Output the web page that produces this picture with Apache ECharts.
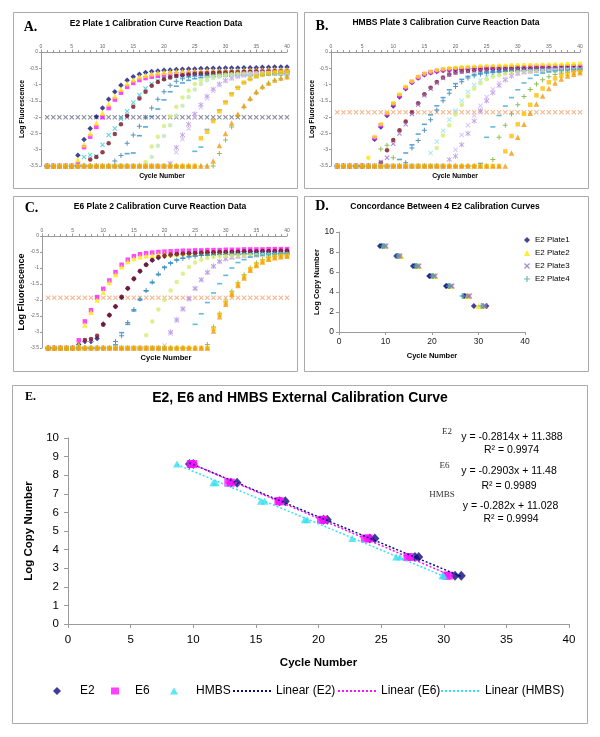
<!DOCTYPE html>
<html><head><meta charset="utf-8">
<script src="https://cdn.jsdelivr.net/npm/echarts@6/dist/echarts.min.js"></script>
<style>html,body{margin:0;padding:0;background:#fff}#c{width:600px;height:737px}</style>
</head><body><div id="c"></div>
<script>
// ---------- DATA ----------
const CYCLES = [1,2,3,4,5,6,7,8,9,10,11,12,13,14,15,16,17,18,19,20,21,22,23,24,25,26,27,28,29,30,31,32,33,34,35,36,37,38,39,40];

// Panel A: E2 Plate 1 (log fluorescence per cycle)
const A_navy = [-3.5,-3.5,-3.5,-3.5,-3.5,-3.17,-2.69,-2.35,-1.99,-1.72,
-1.45,-1.22,-1.02,-0.87,-0.76,-0.68,-0.63,-0.60,-0.58,-0.56,
-0.55,-0.54,-0.53,-0.52,-0.52,-0.51,-0.51,-0.50,-0.50,-0.49,
-0.49,-0.49,-0.48,-0.48,-0.48,-0.47,-0.47,-0.46,-0.46,-0.46];
const A_yellow = [-3.5,-3.5,-3.5,-3.5,-3.5,-3.30,-2.85,-2.50,-2.18,-1.87,
-1.60,-1.36,-1.14,-0.97,-0.85,-0.76,-0.71,-0.67,-0.64,-0.62,
-0.61,-0.60,-0.59,-0.59,-0.58,-0.58,-0.57,-0.57,-0.57,-0.56,
-0.56,-0.56,-0.55,-0.55,-0.55,-0.55,-0.54,-0.54,-0.54,-0.54];
const A_magenta = [-3.5,-3.5,-3.5,-3.5,-3.5,-3.45,-2.92,-2.60,-2.30,-2.00,
-1.72,-1.46,-1.25,-1.07,-0.95,-0.86,-0.80,-0.76,-0.73,-0.71,
-0.69,-0.68,-0.67,-0.66,-0.65,-0.65,-0.64,-0.64,-0.63,-0.63,
-0.62,-0.62,-0.62,-0.61,-0.61,-0.61,-0.60,-0.60,-0.60,-0.60];
const A_cyan = [-3.5,-3.5,-3.5,-3.5,-3.5,-3.5,-3.22,-3.16,-3.20,-2.85,
-2.55,-2.35,-2.05,-1.82,-1.55,-1.32,-1.12,-0.98,-0.88,-0.81,
-0.77,-0.74,-0.72,-0.71,-0.70,-0.69,-0.69,-0.68,-0.68,-0.67,
-0.67,-0.66,-0.66,-0.66,-0.65,-0.65,-0.65,-0.64,-0.64,-0.64];
const A_maroon = [-3.5,-3.5,-3.5,-3.5,-3.5,-3.5,-3.5,-3.30,-3.22,-3.08,
-2.80,-2.52,-2.22,-1.96,-1.68,-1.43,-1.22,-1.04,-0.92,-0.84,
-0.78,-0.74,-0.71,-0.69,-0.67,-0.66,-0.65,-0.64,-0.63,-0.63,
-0.62,-0.62,-0.61,-0.61,-0.60,-0.60,-0.60,-0.59,-0.59,-0.59];
const A_teal = [-3.5,-3.5,-3.5,-3.5,-3.5,-3.5,-3.5,-3.5,-3.5,-3.5,
-3.5,-3.35,-3.18,-2.80,-2.55,-2.28,-2.00,-1.72,-1.45,-1.22,
-1.02,-0.90,-0.82,-0.77,-0.74,-0.72,-0.71,-0.70,-0.70,-0.69,
-0.69,-0.68,-0.68,-0.68,-0.67,-0.67,-0.67,-0.66,-0.66,-0.66];
const A_blue = [-3.5,-3.5,-3.5,-3.5,-3.5,-3.5,-3.5,-3.5,-3.5,-3.5,
-3.5,-3.5,-3.5,-3.12,-3.10,-2.57,-2.30,-1.98,-1.75,-1.47,
-1.22,-1.05,-0.95,-0.87,-0.82,-0.79,-0.77,-0.76,-0.75,-0.74,
-0.73,-0.73,-0.72,-0.72,-0.71,-0.71,-0.71,-0.70,-0.70,-0.70];
const A_lime = [-3.5,-3.5,-3.5,-3.5,-3.5,-3.5,-3.5,-3.5,-3.5,-3.5,
-3.5,-3.5,-3.5,-3.5,-3.5,-3.5,-3.38,-2.90,-2.60,-2.27,
-1.98,-1.68,-1.40,-1.18,-0.98,-0.87,-0.80,-0.75,-0.72,-0.70,
-0.68,-0.67,-0.66,-0.65,-0.65,-0.64,-0.64,-0.63,-0.63,-0.63];
const A_pale = [-3.5,-3.5,-3.5,-3.5,-3.5,-3.5,-3.5,-3.5,-3.5,-3.5,
-3.5,-3.5,-3.5,-3.5,-3.5,-3.5,-3.5,-3.22,-2.88,-2.58,
-2.25,-1.95,-1.65,-1.38,-1.15,-0.98,-0.87,-0.80,-0.76,-0.73,
-0.71,-0.70,-0.69,-0.68,-0.67,-0.67,-0.66,-0.66,-0.65,-0.65];
const A_violet = [-3.5,-3.5,-3.5,-3.5,-3.5,-3.5,-3.5,-3.5,-3.5,-3.5,
-3.5,-3.5,-3.5,-3.5,-3.5,-3.5,-3.5,-3.5,-3.5,-3.5,
-3.42,-2.93,-2.55,-2.22,-1.90,-1.62,-1.36,-1.14,-0.98,-0.87,
-0.79,-0.74,-0.70,-0.67,-0.65,-0.64,-0.63,-0.62,-0.61,-0.61];
const A_lav = [-3.5,-3.5,-3.5,-3.5,-3.5,-3.5,-3.5,-3.5,-3.5,-3.5,
-3.5,-3.5,-3.5,-3.5,-3.5,-3.5,-3.5,-3.5,-3.5,-3.5,
-3.5,-3.08,-2.68,-2.35,-2.00,-1.70,-1.42,-1.20,-1.02,-0.90,
-0.82,-0.76,-0.72,-0.69,-0.67,-0.66,-0.65,-0.64,-0.64,-0.63];
const A_sky = [-3.5,-3.5,-3.5,-3.5,-3.5,-3.5,-3.5,-3.5,-3.5,-3.5,
-3.5,-3.5,-3.5,-3.5,-3.5,-3.5,-3.5,-3.5,-3.5,-3.5,
-3.5,-3.5,-3.5,-3.5,-3.05,-2.92,-2.38,-2.08,-1.78,-1.52,
-1.27,-1.08,-0.94,-0.84,-0.77,-0.72,-0.69,-0.66,-0.64,-0.62];
const A_gold = [-3.5,-3.5,-3.5,-3.5,-3.5,-3.5,-3.5,-3.5,-3.5,-3.5,
-3.5,-3.5,-3.5,-3.5,-3.5,-3.5,-3.5,-3.5,-3.5,-3.5,
-3.5,-3.5,-3.5,-3.5,-3.5,-2.65,-2.45,-2.12,-1.82,-1.55,
-1.30,-1.10,-0.94,-0.83,-0.75,-0.70,-0.66,-0.63,-0.61,-0.60];
const A_orange = [-3.5,-3.5,-3.5,-3.5,-3.5,-3.5,-3.5,-3.5,-3.5,-3.5,
-3.5,-3.5,-3.5,-3.5,-3.5,-3.5,-3.5,-3.5,-3.5,-3.5,
-3.5,-3.5,-3.5,-3.5,-3.5,-3.5,-3.5,-3.35,-2.87,-2.50,
-2.18,-1.90,-1.64,-1.42,-1.22,-1.06,-0.95,-0.86,-0.80,-0.76];
const A_green = [-3.5,-3.5,-3.5,-3.5,-3.5,-3.5,-3.5,-3.5,-3.5,-3.5,
-3.5,-3.5,-3.5,-3.5,-3.5,-3.5,-3.5,-3.5,-3.5,-3.5,
-3.5,-3.5,-3.5,-3.5,-3.5,-3.5,-3.5,-3.5,-3.12,-2.70,
-2.30,-1.96,-1.70,-1.45,-1.25,-1.08,-0.96,-0.87,-0.82,-0.77];
const A_thr = [-2,-2,-2,-2,-2,-2,-2,-2,-2,-2,-2,-2,-2,-2,-2,-2,-2,-2,-2,-2,
-2,-2,-2,-2,-2,-2,-2,-2,-2,-2,-2,-2,-2,-2,-2,-2,-2,-2,-2,-2];

// Panel B: HMBS Plate 3
const B_yellow = [-3.5,-3.5,-3.5,-3.5,-3.5,-3.25,-2.60,-2.22,-1.87,-1.57,
-1.30,-1.07,-0.90,-0.76,-0.66,-0.60,-0.55,-0.52,-0.50,-0.48,
-0.47,-0.46,-0.45,-0.44,-0.43,-0.43,-0.42,-0.42,-0.41,-0.41,
-0.40,-0.40,-0.40,-0.39,-0.39,-0.38,-0.38,-0.37,-0.37,-0.36];
const B_navy = [-3.5,-3.5,-3.5,-3.5,-3.5,-3.5,-2.68,-2.30,-1.95,-1.66,
-1.38,-1.13,-0.94,-0.80,-0.70,-0.64,-0.60,-0.57,-0.55,-0.54,
-0.53,-0.52,-0.51,-0.51,-0.50,-0.50,-0.49,-0.49,-0.49,-0.48,
-0.48,-0.48,-0.47,-0.47,-0.47,-0.47,-0.46,-0.46,-0.46,-0.46];
const B_magenta = [-3.5,-3.5,-3.5,-3.5,-3.5,-3.5,-2.64,-2.25,-1.90,-1.60,
-1.34,-1.10,-0.92,-0.78,-0.68,-0.62,-0.58,-0.55,-0.53,-0.52,
-0.51,-0.50,-0.50,-0.49,-0.49,-0.48,-0.48,-0.48,-0.47,-0.47,
-0.47,-0.46,-0.46,-0.46,-0.45,-0.45,-0.45,-0.45,-0.44,-0.44];
const B_maroon = [-3.5,-3.5,-3.5,-3.5,-3.5,-3.5,-3.5,-3.40,-3.02,-2.70,
-2.40,-2.13,-1.85,-1.57,-1.30,-1.10,-0.92,-0.78,-0.69,-0.63,
-0.60,-0.58,-0.56,-0.55,-0.54,-0.53,-0.53,-0.52,-0.52,-0.51,
-0.51,-0.51,-0.50,-0.50,-0.50,-0.50,-0.49,-0.49,-0.49,-0.49];
const B_purple = [-3.5,-3.5,-3.5,-3.5,-3.5,-3.5,-3.5,-3.38,-3.25,-2.82,
-2.50,-2.22,-1.90,-1.62,-1.33,-1.13,-0.95,-0.80,-0.70,-0.64,
-0.61,-0.59,-0.57,-0.56,-0.55,-0.54,-0.54,-0.53,-0.53,-0.52,
-0.52,-0.52,-0.51,-0.51,-0.51,-0.50,-0.50,-0.50,-0.50,-0.49];
const B_green = [-3.5,-3.5,-3.5,-3.5,-3.5,-3.5,-3.5,-2.98,-2.86,-3.25,
-3.5,-3.5,-3.5,-3.5,-3.5,-3.5,-3.5,-3.5,-3.5,-3.5,
-3.5,-3.5,-3.5,-3.5,-3.5,-3.30,-2.62,-2.25,-1.90,-1.62,
-1.37,-1.15,-0.98,-0.85,-0.76,-0.69,-0.65,-0.62,-0.60,-0.58];
const B_blue = [-3.5,-3.5,-3.5,-3.5,-3.5,-3.5,-3.5,-3.5,-3.5,-3.5,
-3.30,-3.10,-2.85,-2.52,-2.22,-1.93,-1.65,-1.40,-1.16,-0.97,
-0.84,-0.75,-0.69,-0.65,-0.62,-0.60,-0.59,-0.58,-0.57,-0.56,
-0.56,-0.55,-0.55,-0.54,-0.54,-0.53,-0.53,-0.53,-0.52,-0.52];
const B_teal = [-3.5,-3.5,-3.5,-3.5,-3.5,-3.5,-3.5,-3.5,-3.5,-3.5,
-3.5,-3.40,-2.95,-2.72,-2.40,-2.08,-1.78,-1.50,-1.27,-1.06,
-0.91,-0.80,-0.73,-0.68,-0.65,-0.63,-0.62,-0.61,-0.60,-0.59,
-0.58,-0.58,-0.57,-0.57,-0.56,-0.56,-0.56,-0.55,-0.55,-0.55];
const B_ltcyan = [-3.5,-3.5,-3.5,-3.5,-3.5,-3.5,-3.5,-3.5,-3.5,-3.5,
-3.5,-3.5,-3.5,-3.5,-3.5,-3.10,-2.75,-2.42,-2.08,-1.80,
-1.50,-1.22,-1.01,-0.87,-0.77,-0.71,-0.67,-0.64,-0.62,-0.61,
-0.60,-0.59,-0.58,-0.58,-0.57,-0.57,-0.56,-0.56,-0.56,-0.55];
const B_lime = [-3.5,-3.5,-3.5,-3.5,-3.5,-3.5,-3.5,-3.5,-3.5,-3.5,
-3.5,-3.5,-3.5,-3.5,-3.5,-3.5,-2.95,-2.56,-2.25,-1.92,
-1.63,-1.36,-1.13,-0.96,-0.84,-0.76,-0.71,-0.67,-0.64,-0.62,
-0.61,-0.60,-0.59,-0.58,-0.58,-0.57,-0.57,-0.56,-0.56,-0.56];
const B_violet = [-3.5,-3.5,-3.5,-3.5,-3.5,-3.5,-3.5,-3.5,-3.5,-3.5,
-3.5,-3.5,-3.5,-3.5,-3.5,-3.5,-3.5,-3.5,-3.30,-3.20,
-2.85,-2.50,-2.12,-1.80,-1.50,-1.25,-1.03,-0.86,-0.74,-0.66,
-0.61,-0.58,-0.56,-0.55,-0.54,-0.53,-0.52,-0.52,-0.51,-0.51];
const B_lav = [-3.5,-3.5,-3.5,-3.5,-3.5,-3.5,-3.5,-3.5,-3.5,-3.5,
-3.5,-3.5,-3.5,-3.5,-3.5,-3.5,-3.5,-3.5,-3.5,-3.00,
-2.55,-2.25,-1.95,-1.65,-1.38,-1.14,-0.95,-0.82,-0.73,-0.67,
-0.63,-0.60,-0.58,-0.57,-0.56,-0.55,-0.54,-0.54,-0.53,-0.53];
const B_sky = [-3.5,-3.5,-3.5,-3.5,-3.5,-3.5,-3.5,-3.5,-3.5,-3.5,
-3.5,-3.5,-3.5,-3.5,-3.5,-3.5,-3.5,-3.5,-3.5,-3.5,
-3.5,-3.5,-3.5,-3.42,-2.62,-2.30,-1.95,-1.66,-1.40,-1.16,
-0.95,-0.81,-0.71,-0.65,-0.61,-0.58,-0.56,-0.55,-0.54,-0.53];
const B_gold = [-3.5,-3.5,-3.5,-3.5,-3.5,-3.5,-3.5,-3.5,-3.5,-3.5,
-3.5,-3.5,-3.5,-3.5,-3.5,-3.5,-3.5,-3.5,-3.5,-3.5,
-3.5,-3.5,-3.5,-3.5,-3.5,-3.5,-3.5,-3.05,-2.58,-2.22,
-1.90,-1.62,-1.33,-1.12,-0.93,-0.81,-0.73,-0.68,-0.64,-0.61];
const B_orange = [-3.5,-3.5,-3.5,-3.5,-3.5,-3.5,-3.5,-3.5,-3.5,-3.5,
-3.5,-3.5,-3.5,-3.5,-3.5,-3.5,-3.5,-3.5,-3.5,-3.5,
-3.5,-3.5,-3.5,-3.5,-3.5,-3.5,-3.5,-3.5,-3.10,-2.62,
-2.22,-1.88,-1.60,-1.35,-1.12,-0.95,-0.83,-0.74,-0.68,-0.64];
const B_thr = [-1.85,-1.85,-1.85,-1.85,-1.85,-1.85,-1.85,-1.85,-1.85,-1.85,
-1.85,-1.85,-1.85,-1.85,-1.85,-1.85,-1.85,-1.85,-1.85,-1.85,
-1.85,-1.85,-1.85,-1.85,-1.85,-1.85,-1.85,-1.85,-1.85,-1.85,
-1.85,-1.85,-1.85,-1.85,-1.85,-1.85,-1.85,-1.85,-1.85,-1.85];

// Panel C: E6 Plate 2
const C_magenta = [-3.5,-3.5,-3.5,-3.5,-3.5,-3.26,-2.67,-2.32,-1.91,-1.65,
-1.39,-1.13,-0.90,-0.74,-0.63,-0.57,-0.54,-0.52,-0.50,-0.49,
-0.48,-0.47,-0.46,-0.46,-0.45,-0.45,-0.44,-0.44,-0.44,-0.43,
-0.43,-0.43,-0.42,-0.42,-0.42,-0.42,-0.41,-0.41,-0.41,-0.41];
const C_yellow = [-3.5,-3.5,-3.5,-3.5,-3.5,-3.40,-2.78,-2.38,-2.00,-1.75,
-1.45,-1.20,-0.96,-0.80,-0.70,-0.65,-0.62,-0.60,-0.58,-0.57,
-0.56,-0.56,-0.55,-0.55,-0.54,-0.54,-0.53,-0.53,-0.53,-0.52,
-0.52,-0.52,-0.51,-0.51,-0.51,-0.51,-0.50,-0.50,-0.50,-0.50];
const C_navy = [-3.5,-3.5,-3.5,-3.5,-3.5,-3.39,-3.30,-3.30,-3.20,-2.75,
-2.47,-2.20,-1.92,-1.64,-1.34,-1.10,-0.90,-0.76,-0.68,-0.63,
-0.60,-0.58,-0.56,-0.55,-0.54,-0.53,-0.52,-0.52,-0.51,-0.51,
-0.50,-0.50,-0.49,-0.49,-0.49,-0.48,-0.48,-0.48,-0.47,-0.47];
const C_maroon = [-3.5,-3.5,-3.5,-3.5,-3.5,-3.5,-3.25,-3.22,-3.12,-2.77,
-2.48,-2.20,-1.90,-1.63,-1.33,-1.09,-0.90,-0.75,-0.66,-0.61,
-0.58,-0.56,-0.55,-0.54,-0.53,-0.52,-0.51,-0.51,-0.50,-0.50,
-0.49,-0.49,-0.48,-0.48,-0.48,-0.47,-0.47,-0.47,-0.46,-0.46];
const C_lav = [-3.5,-3.5,-3.5,-3.5,-3.5,-3.5,-3.26,-3.25,-3.5,-3.5,
-3.5,-3.5,-3.5,-3.5,-3.5,-3.5,-3.5,-3.5,-3.5,-3.42,
-3.05,-2.65,-2.30,-1.98,-1.66,-1.38,-1.15,-0.96,-0.81,-0.73,
-0.68,-0.65,-0.63,-0.62,-0.61,-0.60,-0.60,-0.59,-0.59,-0.58];
const C_violet = [-3.5,-3.5,-3.5,-3.5,-3.5,-3.5,-3.5,-3.5,-3.5,-3.5,
-3.5,-3.5,-3.5,-3.5,-3.5,-3.5,-3.5,-3.5,-3.5,-3.5,
-3.00,-2.61,-2.27,-1.96,-1.63,-1.36,-1.13,-0.94,-0.79,-0.71,
-0.66,-0.63,-0.61,-0.60,-0.59,-0.58,-0.58,-0.57,-0.57,-0.56];
const C_blue = [-3.5,-3.5,-3.5,-3.5,-3.5,-3.5,-3.5,-3.5,-3.5,-3.5,
-3.5,-3.40,-3.02,-2.76,-2.34,-2.00,-1.72,-1.46,-1.21,-0.97,
-0.84,-0.74,-0.69,-0.64,-0.62,-0.60,-0.59,-0.58,-0.57,-0.57,
-0.56,-0.56,-0.55,-0.55,-0.55,-0.54,-0.54,-0.54,-0.53,-0.53];
const C_teal = [-3.5,-3.5,-3.5,-3.5,-3.5,-3.5,-3.5,-3.5,-3.5,-3.5,
-3.5,-3.30,-3.12,-2.70,-2.30,-1.97,-1.70,-1.44,-1.19,-0.99,
-0.85,-0.76,-0.70,-0.66,-0.63,-0.61,-0.60,-0.59,-0.58,-0.58,
-0.57,-0.57,-0.56,-0.56,-0.56,-0.55,-0.55,-0.55,-0.54,-0.54];
const C_lime = [-3.5,-3.5,-3.5,-3.5,-3.5,-3.5,-3.5,-3.5,-3.5,-3.5,
-3.5,-3.5,-3.5,-3.5,-3.5,-3.5,-3.10,-2.67,-2.30,-2.00,
-1.70,-1.44,-1.18,-0.97,-0.83,-0.74,-0.69,-0.66,-0.64,-0.63,
-0.62,-0.61,-0.61,-0.60,-0.60,-0.59,-0.59,-0.59,-0.58,-0.58];
const C_sky = [-3.5,-3.5,-3.5,-3.5,-3.5,-3.5,-3.5,-3.5,-3.5,-3.5,
-3.5,-3.5,-3.5,-3.5,-3.5,-3.5,-3.5,-3.5,-3.5,-3.5,
-3.5,-3.5,-3.5,-3.5,-2.76,-2.43,-2.08,-1.78,-1.49,-1.23,
-1.00,-0.83,-0.74,-0.66,-0.62,-0.60,-0.58,-0.57,-0.56,-0.55];
const C_green = [-3.5,-3.5,-3.5,-3.5,-3.5,-3.5,-3.5,-3.5,-3.5,-3.5,
-3.5,-3.5,-3.5,-3.5,-3.5,-3.5,-3.5,-3.5,-3.5,-3.5,
-3.5,-3.5,-3.5,-3.5,-3.5,-3.5,-3.39,-2.84,-2.43,-2.04,
-1.73,-1.46,-1.21,-1.00,-0.84,-0.74,-0.67,-0.63,-0.60,-0.58];
const C_gold = [-3.5,-3.5,-3.5,-3.5,-3.5,-3.5,-3.5,-3.5,-3.5,-3.5,
-3.5,-3.5,-3.5,-3.5,-3.5,-3.5,-3.5,-3.5,-3.5,-3.5,
-3.5,-3.5,-3.5,-3.5,-3.5,-3.5,-3.5,-2.90,-2.46,-2.09,
-1.80,-1.52,-1.28,-1.04,-0.90,-0.79,-0.71,-0.66,-0.63,-0.62];
const C_orange = [-3.5,-3.5,-3.5,-3.5,-3.5,-3.5,-3.5,-3.5,-3.5,-3.5,
-3.5,-3.5,-3.5,-3.5,-3.5,-3.5,-3.5,-3.5,-3.5,-3.5,
-3.5,-3.5,-3.5,-3.5,-3.5,-3.5,-3.5,-2.97,-2.52,-2.13,
-1.83,-1.55,-1.31,-1.07,-0.92,-0.81,-0.73,-0.68,-0.65,-0.63];
const C_thr = [-1.93,-1.93,-1.93,-1.93,-1.93,-1.93,-1.93,-1.93,-1.93,-1.93,
-1.93,-1.93,-1.93,-1.93,-1.93,-1.93,-1.93,-1.93,-1.93,-1.93,
-1.93,-1.93,-1.93,-1.93,-1.93,-1.93,-1.93,-1.93,-1.93,-1.93,
-1.93,-1.93,-1.93,-1.93,-1.93,-1.93,-1.93,-1.93,-1.93,-1.93];

// Panel D: concordance of 4 E2 plates (cycle number vs log copy number)
const D_LOG = [8.6,8.6,7.6,7.6,6.6,6.6,5.6,5.6,4.6,4.6,3.6,3.6,2.6,2.6];
const D_P1 = [8.8,9.1,12.3,12.6,15.9,16.2,19.4,19.6,23.0,23.2,26.9,27.1,29.0,31.7];
const D_P2 = [9.6,10.0,13.0,13.4,16.8,17.1,20.3,20.5,23.9,24.2,27.6,27.9,30.0,30.9];
const D_P3 = [9.8,10.1,12.8,13.1,16.9,17.2,20.4,20.7,24.1,24.3,27.8,28.1,31.2,31.5];
const D_P4 = [9.4,9.7,12.6,12.9,16.4,16.7,20.0,20.2,23.6,23.8,26.5,26.8,30.6,31.0];
const D_NAMES = ['E2 Plate1','E2 Plate2','E2 Plate3','E2 Plate4'];

// Panel E: external calibration curves
const E_LOG = [8.6,8.6,7.6,7.6,6.6,6.6,5.6,5.6,4.6,4.6,3.6,3.6,2.6,2.6];
const E2_CT = [9.7,10.0,13.0,13.5,16.9,17.35,20.4,20.7,24.1,24.5,27.7,28.0,30.9,31.4];
const E6_CT = [9.8,10.0,12.8,13.0,16.8,16.9,20.2,20.4,23.7,24.0,27.1,27.3,30.2,30.4];
const HMBS_LOG = [8.6,7.6,7.6,6.6,6.6,5.6,5.6,4.6,3.6,3.6,2.6,2.6];
const HMBS_CT = [8.7,11.6,11.8,15.4,15.7,18.9,19.1,22.7,26.2,26.5,29.9,30.0];
const FIT_NAMES = ['E2','E6','HMBS'];
const FIT_SLOPE = [-0.2814,-0.2903,-0.282];
const FIT_INTERCEPT = [11.388,11.48,11.028];
const FIT_R2 = ['0.9974','0.9989','0.9994'];

// ---------- STYLE ----------
const FONT = '"Liberation Sans", Arial, sans-serif';
const SERIF = '"Liberation Serif", "Times New Roman", serif';
const SYM = {
  diamond:'diamond', square:'rect', tri:'triangle', circle:'circle',
  x:'path://M0,1.5L1.5,0L5,3.5L8.5,0L10,1.5L6.5,5L10,8.5L8.5,10L5,6.5L1.5,10L0,8.5L3.5,5Z',
  plus:'path://M4,0H6V4H10V6H6V10H4V6H0V4H4Z',
  dash:'path://M0,0H10V2H0Z',
  star:'path://M4.3,0H5.7V3.6L8.6,0.9L9.6,1.9L6.5,5L9.6,8.1L8.6,9.1L5.7,6.4V10H4.3V6.4L1.4,9.1L0.4,8.1L3.5,5L0.4,1.9L1.4,0.9L4.3,3.6Z'
};
const SIZE = {diamond:5.5, square:4.5, tri:5.5, circle:4.5, x:5, plus:5, dash:[5,1.6], star:5.5};

const C = {
  navy:'#12127c', magenta:'#ff1cff', yellow:'#ffe600', cyan:'#3cc8dc', maroon:'#7c1022',
  teal:'#2a78a8', blue:'#2f8fd0', lime:'#d4ec74', pale:'#bfe8b4', violet:'#b48ce0',
  lav:'#d4b8f4', sky:'#3aa8d8', gold:'#ffc000', orange:'#f49a10', green:'#74b02a',
  thrA:'#6e6e88', thrBC:'#f2a474', purple:'#9a6cc8', ltcyan:'#9ae4ee'
};

const PANEL_A = [
  [A_thr,'x',C.thrA],[A_navy,'diamond',C.navy],[A_magenta,'square',C.magenta],[A_yellow,'tri',C.yellow],
  [A_cyan,'x',C.cyan],[A_violet,'star',C.violet],[A_maroon,'circle',C.maroon],[A_teal,'plus',C.teal],
  [A_blue,'dash',C.blue],[A_lime,'circle',C.lime],[A_pale,'circle',C.pale],[A_lav,'x',C.lav],
  [A_sky,'dash',C.sky],[A_green,'plus',C.green],[A_gold,'square',C.gold],[A_orange,'tri',C.orange]
];
const PANEL_B = [
  [B_thr,'x',C.thrBC],[B_navy,'diamond',C.navy],[B_magenta,'square',C.magenta],[B_yellow,'circle',C.yellow],
  [B_ltcyan,'x',C.ltcyan],[B_violet,'star',C.violet],[B_maroon,'circle',C.maroon],[B_purple,'x',C.purple],
  [B_teal,'plus',C.teal],[B_blue,'dash',C.blue],[B_lime,'circle',C.lime],[B_lav,'x',C.lav],
  [B_sky,'dash',C.sky],[B_green,'plus',C.green],[B_gold,'square',C.gold],[B_orange,'tri',C.orange]
];
const PANEL_C = [
  [C_thr,'x',C.thrBC],[C_navy,'diamond',C.navy],[C_magenta,'square',C.magenta],[C_yellow,'tri',C.yellow],
  [C_lav,'x',C.lav],[C_violet,'star',C.violet],[C_maroon,'circle',C.maroon],[C_teal,'plus',C.teal],
  [C_blue,'dash',C.blue],[C_lime,'circle',C.lime],[C_sky,'dash',C.sky],[C_green,'plus',C.green],
  [C_gold,'square',C.gold],[C_orange,'tri',C.orange]
];

const series = [];
function addCurves(list, gi, tag) {
  list.forEach((s, k) => {
    series.push({
      type:'scatter', name: tag + k, xAxisIndex: gi, yAxisIndex: gi,
      data: CYCLES.map((c, i) => [c, s[0][i]]),
      symbol: SYM[s[1]], symbolSize: SIZE[s[1]],
      itemStyle: {color: s[2]}, silent: true, z: 2
    });
  });
}
addCurves(PANEL_A, 0, 'A');
addCurves(PANEL_B, 1, 'B');
addCurves(PANEL_C, 2, 'C');

// Panel D
[[D_P1,'diamond',C.navy,6],[D_P2,'tri',C.yellow,6],[D_P3,'x',C.purple,5.5],[D_P4,'plus','#4aa6a6',6]].forEach((s,k) => {
  series.push({type:'scatter', name: D_NAMES[k], xAxisIndex:3, yAxisIndex:3,
    data: s[0].map((x,i) => [x, D_LOG[i]]), symbol: SYM[s[1]], symbolSize: s[3],
    itemStyle:{color:s[2]}, silent:true});
});

// Panel E
const E_COL = ['#0c0c80', '#ff10ff', '#38e0ee'];
series.push({type:'scatter', name:'E2', xAxisIndex:4, yAxisIndex:4, data:E2_CT.map((x,i)=>[x,E_LOG[i]]), symbol:'diamond', symbolSize:[9,10], itemStyle:{color:E_COL[0]}, silent:true});
series.push({type:'scatter', name:'E6', xAxisIndex:4, yAxisIndex:4, data:E6_CT.map((x,i)=>[x,E_LOG[i]]), symbol:'rect', symbolSize:[8,8], itemStyle:{color:E_COL[1]}, silent:true});
series.push({type:'scatter', name:'HMBS', xAxisIndex:4, yAxisIndex:4, data:HMBS_CT.map((x,i)=>[x,HMBS_LOG[i]]), symbol:'triangle', symbolSize:[8,7], itemStyle:{color:E_COL[2]}, silent:true});
const CT_SETS = [E2_CT, E6_CT, HMBS_CT];
FIT_NAMES.forEach((n,k) => {
  const x0 = Math.min(...CT_SETS[k]), x1 = Math.max(...CT_SETS[k]);
  series.push({type:'line', name:'Linear (' + n + ')', xAxisIndex:4, yAxisIndex:4,
    data:[[x0, FIT_SLOPE[k]*x0 + FIT_INTERCEPT[k]], [x1, FIT_SLOPE[k]*x1 + FIT_INTERCEPT[k]]],
    symbol:'none', showSymbol:false, itemStyle:{color:'rgba(0,0,0,0)'},
    lineStyle:{color:E_COL[k], width:1.5, type:[2,2]}, silent:true, z:3});
});

// ---------- AXES ----------
const AX = '#9a9a9a';
function curveAxes(gi, gap, nameSize) {
  return {
    x: {gridIndex:gi, type:'value', position:'top', min:0, max:40, interval:5,
      axisLine:{onZero:false, lineStyle:{color:AX, width:1}},
      axisTick:{show:true, length:2.5, lineStyle:{color:AX}},
      minorTick:{show:true, splitNumber:5, length:2, lineStyle:{color:AX}},
      axisLabel:{fontSize:5, color:'#666', margin:3, fontFamily:FONT},
      splitLine:{show:false}, minorSplitLine:{show:false}},
    y: {gridIndex:gi, type:'value', min:-3.5, max:0, interval:0.5,
      axisLine:{show:true, onZero:false, lineStyle:{color:AX}},
      axisTick:{show:true, length:2, lineStyle:{color:AX}},
      axisLabel:{fontSize:5, color:'#666', margin:3, fontFamily:FONT},
      splitLine:{show:false},
      name:'Log Fluorescence', nameLocation:'middle', nameGap:gap,
      nameTextStyle:{fontSize:nameSize, fontWeight:'bold', color:'#000', fontFamily:FONT}}
  };
}
const axA = curveAxes(0, 15, 6.8), axB = curveAxes(1, 14, 6.8), axC = curveAxes(2, 12, 9);
const xAxes = [axA.x, axB.x, axC.x,
  {gridIndex:3, type:'value', min:0, max:40, interval:10,
    axisLine:{onZero:false, lineStyle:{color:AX}}, axisTick:{show:true, length:3, lineStyle:{color:AX}},
    axisLabel:{fontSize:8.5, color:'#222', margin:5, fontFamily:FONT}, splitLine:{show:false},
    name:'Cycle Number', nameLocation:'middle', nameGap:20,
    nameTextStyle:{fontSize:7.5, fontWeight:'bold', color:'#000', fontFamily:FONT}},
  {gridIndex:4, type:'value', min:0, max:40, interval:5,
    axisLine:{onZero:false, lineStyle:{color:AX}}, axisTick:{show:true, length:4, lineStyle:{color:AX}},
    axisLabel:{fontSize:11.5, color:'#000', margin:10, fontFamily:FONT}, splitLine:{show:false},
    name:'Cycle Number', nameLocation:'middle', nameGap:33,
    nameTextStyle:{fontSize:11.5, fontWeight:'bold', color:'#000', fontFamily:FONT}}
];
const yAxes = [axA.y, axB.y, axC.y,
  {gridIndex:3, type:'value', min:0, max:10, interval:2,
    axisLine:{show:true, onZero:false, lineStyle:{color:AX}}, axisTick:{show:true, length:3, lineStyle:{color:AX}},
    axisLabel:{fontSize:8.5, color:'#222', margin:5, fontFamily:FONT}, splitLine:{show:false},
    name:'Log Copy Number', nameLocation:'middle', nameGap:18,
    nameTextStyle:{fontSize:7.6, fontWeight:'bold', color:'#000', fontFamily:FONT}},
  {gridIndex:4, type:'value', min:0, max:10, interval:1,
    axisLine:{show:true, onZero:false, lineStyle:{color:AX}}, axisTick:{show:true, length:4, lineStyle:{color:AX}},
    axisLabel:{fontSize:11.5, color:'#000', margin:9, fontFamily:FONT}, splitLine:{show:false},
    name:'Log Copy Number', nameLocation:'middle', nameGap:28,
    nameTextStyle:{fontSize:11.5, fontWeight:'bold', color:'#000', fontFamily:FONT}}
];

const grids = [
  {left:41, top:52, width:246, height:114},
  {left:331, top:52, width:249, height:114},
  {left:42, top:236, width:245, height:112},
  {left:339, top:232, width:186, height:100},
  {left:68, top:438, width:501, height:186}
].map(g => Object.assign({containLabel:false, outerBoundsMode:'none'}, g));

// ---------- GRAPHICS (frames, titles, labels) ----------
function txt(x, y, text, font, align, color) {
  return {type:'text', x:x, y:y, silent:true,
    style:{text:text, font:font, fill:color || '#000', align:align || 'center', verticalAlign:'middle'}};
}
function frame(x, y, w, h) {
  return {type:'rect', silent:true, shape:{x:x, y:y, width:w, height:h},
    style:{fill:'none', stroke:'#ababab', lineWidth:1}, z:-1};
}
const graphics = [
  frame(13.5,12.5,284,176), frame(304.5,12.5,284,176),
  frame(13.5,196.5,284,175), frame(304.5,196.5,284,175),
  frame(12.5,385.5,575,338),
  txt(30.5,27,'A.','bold 14px ' + SERIF), txt(322,26,'B.','bold 14px ' + SERIF),
  txt(31.5,208,'C.','bold 14px ' + SERIF), txt(322,206,'D.','bold 14px ' + SERIF),
  txt(30.5,397,'E.','bold 12px ' + SERIF),
  txt(156,24,'E2 Plate 1 Calibration Curve Reaction Data','bold 8.5px ' + FONT),
  txt(446,23,'HMBS Plate 3 Calibration Curve Reaction Data','bold 8.5px ' + FONT),
  txt(160,207,'E6 Plate 2 Calibration Curve Reaction Data','bold 8.5px ' + FONT),
  txt(445,207,'Concordance Between 4 E2 Calibration Curves','bold 8.5px ' + FONT),
  txt(300,398,'E2, E6 and HMBS External Calibration Curve','bold 14px ' + FONT),
  txt(162,176,'Cycle Number','bold 6.8px ' + FONT),
  txt(455,176,'Cycle Number','bold 6.8px ' + FONT),
  txt(166,358,'Cycle Number','bold 7.6px ' + FONT)
];
const EQ_POS = [[447,431.5,512,437,511.5,450.5],[444.5,466,509,471.5,509,486],[442,495,510.5,506,511,519.5]];
FIT_NAMES.forEach((n,k) => {
  const p = EQ_POS[k];
  graphics.push(txt(p[0], p[1], n, '9px ' + SERIF, 'center', '#333'));
  graphics.push(txt(p[2], p[3], 'y = ' + FIT_SLOPE[k] + 'x + ' + FIT_INTERCEPT[k], '10.5px ' + FONT));
  graphics.push(txt(p[4], p[5], 'R\u00b2 = ' + FIT_R2[k], '10.5px ' + FONT));
});

// ---------- LEGENDS ----------
function legTxt(padLeft) {
  return {fontSize:12, color:'#000', fontFamily:FONT, padding:[0,0,0,padLeft]};
}
const legBase = {top:685, padding:0, selectedMode:false, itemHeight:8};
const legends = [
  Object.assign({}, legBase, {data:['E2'], left:53, itemWidth:8, textStyle:legTxt(14)}),
  Object.assign({}, legBase, {data:['E6'], left:111, itemWidth:8, itemHeight:7, textStyle:legTxt(11)}),
  Object.assign({}, legBase, {data:['HMBS'], left:170, itemWidth:8, itemHeight:7, textStyle:legTxt(13)}),
  Object.assign({}, legBase, {data:['Linear (E2)'], left:232, itemWidth:38, textStyle:legTxt(0), itemStyle:{color:'rgba(0,0,0,0)', borderWidth:0}}),
  Object.assign({}, legBase, {data:['Linear (E6)'], left:337, itemWidth:38, textStyle:legTxt(0), itemStyle:{color:'rgba(0,0,0,0)', borderWidth:0}}),
  Object.assign({}, legBase, {data:['Linear (HMBS)'], left:440, itemWidth:39, textStyle:legTxt(0), itemStyle:{color:'rgba(0,0,0,0)', borderWidth:0}}),
  {data:D_NAMES, left:524, top:235, orient:'vertical', padding:0, itemGap:3, itemWidth:6, itemHeight:6,
    selectedMode:false, textStyle:{fontSize:8, color:'#000', fontFamily:FONT, lineHeight:10}}
];

const chart = echarts.init(document.getElementById('c'), null, {renderer:'canvas'});
chart.setOption({
  backgroundColor:'#fff', animation:false,
  grid: grids, xAxis: xAxes, yAxis: yAxes,
  legend: legends, graphic: graphics, series: series
});
</script></body></html>
